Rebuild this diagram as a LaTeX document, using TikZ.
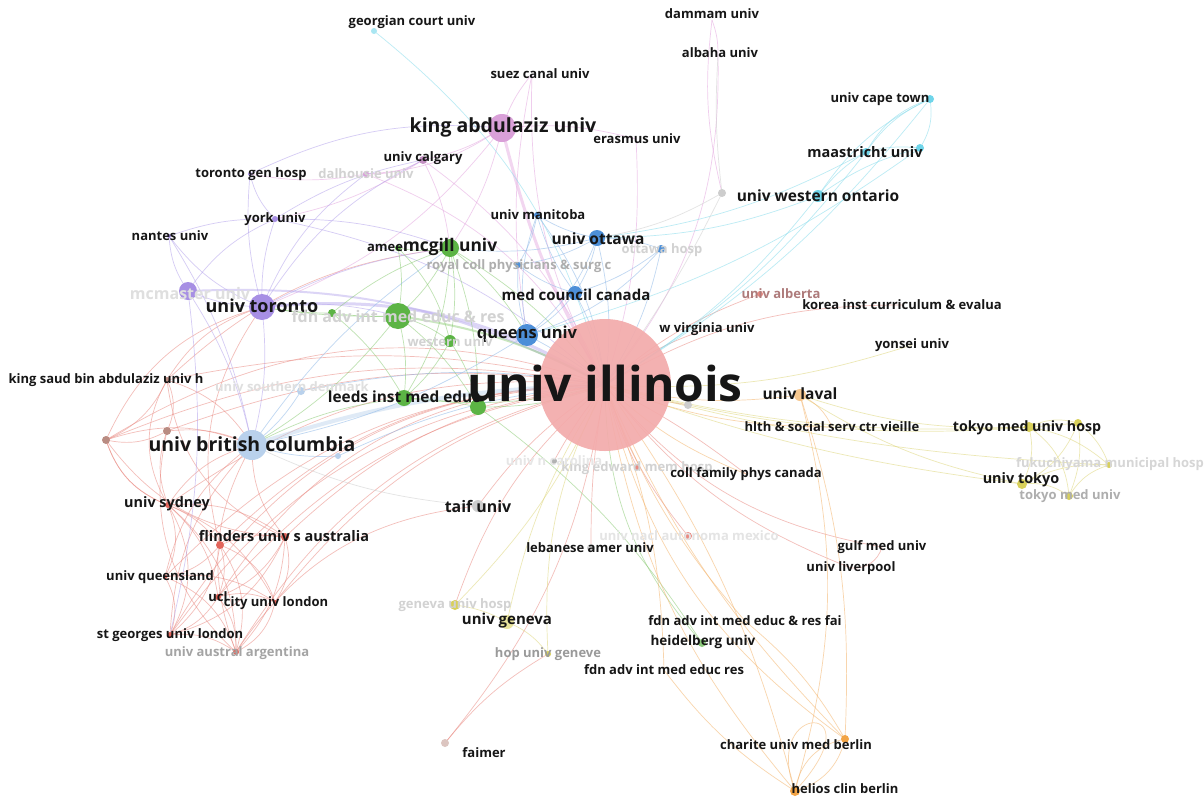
\documentclass[tikz,border=0pt]{standalone}
\usepackage{fontspec}
\setmainfont{Open Sans}
\pgfdeclarelayer{bg}
\pgfsetlayers{bg,main}
\definecolor{illC}{HTML}{F3ABAB}
\definecolor{redN}{HTML}{E2655B}
\definecolor{redE}{HTML}{EA8A82}
\definecolor{pinkN}{HTML}{D9A0D8}
\definecolor{pinkE}{HTML}{E3A5DF}
\definecolor{purN}{HTML}{A78FE4}
\definecolor{purE}{HTML}{B3A2EC}
\definecolor{grnN}{HTML}{5CB445}
\definecolor{grnE}{HTML}{8ACB73}
\definecolor{bluN}{HTML}{4C8FD8}
\definecolor{bluE}{HTML}{8DB8E8}
\definecolor{lbN}{HTML}{B9D1EC}
\definecolor{cyN}{HTML}{6FD5EA}
\definecolor{cyE}{HTML}{86DCEC}
\definecolor{yelN}{HTML}{D8D05A}
\definecolor{yelE}{HTML}{DED67A}
\definecolor{orN}{HTML}{F2A446}
\definecolor{orE}{HTML}{F4B36A}
\definecolor{brN}{HTML}{B98C82}
\definecolor{gryN}{HTML}{CDCDCD}
\definecolor{ink}{HTML}{161616}
\definecolor{fadeC}{HTML}{D2D2D2}
\definecolor{midC}{HTML}{9A9A9A}
\tikzset{
  dot/.style={circle, inner sep=0pt, minimum size=#1, draw=none},
  lbl/.style={font=\bfseries\fontsize{#1}{#1}\selectfont, text=ink, inner sep=0pt},
  lbl/.default=13,
  e/.style={draw=#1, line width=0.7pt, draw opacity=0.55},
  ethick/.style={draw=#1, line width=3pt, draw opacity=0.45},
}
\begin{document}
\begin{tikzpicture}[x=1pt,y=-1pt]
\useasboundingbox (0,0) rectangle (1204,798);
% ---------- node circles ----------
\node[dot=132, fill=illC, fill opacity=0.92] (ill) at (605,385) {};
\node[dot=28, fill=pinkN] (kau) at (502,128) {};
\node[dot=30, fill=lbN] (ubc) at (252,445) {};
\node[dot=26, fill=purN] (tor) at (262,307) {};
\node[dot=18, fill=purN] (mcm) at (188,291) {};
\node[dot=18, fill=grnN] (mcg) at (450,248) {};
\node[dot=26, fill=grnN] (gbig) at (398,316) {};
\node[dot=8, fill=grnN] (gsm) at (332,313) {};
\node[dot=12, fill=grnN] (west) at (450,341) {};
\node[dot=16, fill=grnN] (leeds) at (404,398) {};
\node[dot=16, fill=grnN] (g2) at (478,407) {};
\node[dot=6, fill=grnN] (amee) at (398,248) {};
\node[dot=22, fill=bluN] (queens) at (527,335) {};
\node[dot=14, fill=bluN] (medc) at (575,293) {};
\node[dot=16, fill=bluN] (ott) at (597,238) {};
\node[dot=8, fill=bluN] (ohosp) at (661,249) {};
\node[dot=6, fill=bluN] (royal) at (518,265) {};
\node[dot=6, fill=bluN] (manit) at (537,215) {};
\node[dot=12, fill=cyN] (uwo) at (818,196) {};
\node[dot=8, fill=cyN] (maast) at (866,152) {};
\node[dot=8, fill=cyN] (cape) at (930,99) {};
\node[dot=8, fill=cyN] (cy2) at (920,148) {};
\node[dot=6, fill=cyN!60] (georg) at (374,31) {};
\node[dot=8, fill=gryN] (gray1) at (722,193) {};
\node[dot=8, fill=pinkN!90!black] (calg) at (423,160) {};
\node[dot=6, fill=pinkN] (dalh) at (366,174) {};
\node[dot=4, fill=purN] (torgen) at (250,174) {};
\node[dot=6, fill=purN] (york) at (275,219) {};
\node[dot=4, fill=purN] (nantes) at (169,236) {};
\node[dot=6, fill=brN] (ks1) at (167,380) {};
\node[dot=8, fill=brN] (ks2) at (167,431) {};
\node[dot=8, fill=brN] (ks3) at (106,440) {};
\node[dot=8, fill=lbN] (usd) at (301,391) {};
\node[dot=6, fill=lbN] (bl2) at (338,456) {};
\node[dot=6, fill=redN] (syd) at (168,505) {};
\node[dot=8, fill=redN] (fl1) at (220,545) {};
\node[dot=8, fill=redN] (fl2) at (285,537) {};
\node[dot=4, fill=redN] (uq) at (165,577) {};
\node[dot=6, fill=redN] (ucl) at (218,597) {};
\node[dot=4, fill=redN] (city) at (275,602) {};
\node[dot=6, fill=redN] (stg) at (170,635) {};
\node[dot=6, fill=redN] (austral) at (236,652) {};
\node[dot=12, fill=gryN] (taif) at (478,506) {};
\node[dot=10, fill=yelN] (gvh) at (455,605) {};
\node[dot=14, fill=yelN!60] (gva) at (507,622) {};
\node[dot=6, fill=yelN] (hop) at (548,654) {};
\node[dot=8, fill=gryN] (lau) at (591,548) {};
\node[dot=8, fill=redE] (nacl) at (688,536) {};
\node[dot=6, fill=redE] (kem) at (637,467) {};
\node[dot=6, fill=gray!60] (gr3) at (554,461) {};
\node[dot=8, fill=grnN!70] (heid) at (702,643) {};
\node[dot=8, fill=brN!50] (faimer) at (445,743) {};
\node[dot=8, fill=orN] (charite) at (845,739) {};
\node[dot=10, fill=orN] (helios) at (795,791) {};
\node[dot=12, fill=orN!60] (laval) at (800,395) {};
\node[dot=8, fill=gryN] (gr4) at (688,405) {};
\node[dot=6, fill=redE] (alb) at (760,294) {};
\node[dot=10, fill=yelN] (tmh1) at (1029,427) {};
\node[dot=8, fill=yelN] (tmh2) at (1078,423) {};
\node[dot=6, fill=yelN] (fuku) at (1109,465) {};
\node[dot=10, fill=yelN] (utok) at (1022,484) {};
\node[dot=8, fill=yelN] (tmu) at (1069,496) {};
% hidden nodes (label only)
\coordinate (suez) at (532,74);
\coordinate (erasmus) at (636,139);
\coordinate (dammam) at (712,20);
\coordinate (albaha) at (718,55);
\coordinate (wvir) at (707,329);
\coordinate (korea) at (902,305);
\coordinate (yonsei) at (912,345);
\coordinate (hlth) at (832,427);
\coordinate (coll) at (746,474);
\coordinate (gulf) at (882,547);
\coordinate (liver) at (851,568);
\coordinate (fdnfai) at (745,621);
\coordinate (fdnres) at (664,670);
% ---------- edges ----------
\begin{pgfonlayer}{bg}
\fill[white] (0,0) rectangle (1204,798);
% red cluster
\foreach \a/\b/\c in {syd/fl1/15,syd/fl2/20,syd/uq/25,syd/stg/30,syd/ucl/20,syd/city/20,syd/austral/25,syd/ks2/20,syd/ks3/25,syd/ks1/30,
  fl1/fl2/15,fl1/uq/20,fl1/ucl/20,fl1/city/25,fl1/stg/20,fl1/austral/25,fl2/ucl/20,fl2/city/25,fl2/austral/20,fl2/stg/25,
  uq/stg/25,uq/city/20,uq/austral/25,ucl/city/20,ucl/stg/20,ucl/austral/20,stg/austral/20,city/austral/25,
  ks1/ks2/25,ks1/ks3/20,ks2/ks3/20,ks1/ubc/20,ks3/ubc/20,ks2/ubc/15,ks3/tor/25,ks1/tor/20,fl2/ubc/20,syd/ubc/20,
  stg/ubc/20,austral/ubc/25,fl1/tor/25,ks3/syd/-25,ks1/fl2/-30,ks2/austral/-30,ks3/fl2/-25,uq/ubc/20}
  \draw[e=redE] (\a.center) to[bend left=\c] (\b.center);
\foreach \a/\c in {syd/20,fl1/22,fl2/18,uq/22,ucl/20,city/18,stg/24,austral/22,ks1/12,ks2/14,ks3/16,
  taif/10,faimer/-15,gulf/20,liver/15,nacl/10,kem/5,wvir/-10,alb/-10,korea/-15,gvh/15,coll/-5,lau/5,gr3/5,gr4/5}
  \draw[e=redE] (ill.center) to[bend right=\c] (\a.center);
\draw[e=redE] (ks3.center) to[bend left=25] (ill.center);
\draw[e=redE] (ks1.center) to[bend left=18] (mcg.center);
\draw[e=redE] (stg.center) to[bend left=30] (ill.center);
\draw[e=redE] (austral.center) to[bend left=25] (taif.center);
\draw[e=redE] (ucl.center) to[bend left=28] (ill.center);
\draw[e=redE] (gulf) to[bend left=40] (liver);
\draw[e=redE] (faimer.center) to[bend left=10] (hop.center);
% pink cluster
\draw[ethick=pinkE] (kau.center) to[bend right=8] (ill.center);
\foreach \a/\b/\c in {kau/suez/10,kau/calg/10,kau/dalh/15,kau/erasmus/10,kau/mcg/10,calg/dalh/15,calg/ill/15,dalh/ill/20,
  suez/ill/-15,albaha/ill/20,dammam/gray1/-10,dammam/albaha/10,kau/tor/15,calg/york/10,dalh/torgen/10,calg/mcg/10,suez/queens/-10,erasmus/ill/10}
  \draw[e=pinkE] (\a.center) to[bend left=\c] (\b.center);
% purple cluster
\draw[ethick=purE] (tor.center) to[bend left=18] (ill.center);
\draw[ethick=purE, line width=2pt] (mcm.center) to[bend left=15] (ill.center);
\foreach \a/\b/\c in {tor/mcm/10,tor/york/10,tor/nantes/15,tor/torgen/10,tor/ubc/10,tor/dalh/15,tor/calg/15,tor/mcg/10,tor/gbig/10,
  mcm/nantes/15,mcm/york/15,mcm/ubc/10,york/torgen/15,york/calg/10,york/ill/15,nantes/york/10,torgen/kau/15,mcm/stg/10,nantes/ubc/10,york/mcg/10}
  \draw[e=purE] (\a.center) to[bend left=\c] (\b.center);
% green cluster
\draw[ethick=grnE, line width=2pt] (gbig.center) to[bend left=10] (ill.center);
\foreach \a/\b/\c in {mcg/gbig/10,mcg/west/10,mcg/leeds/15,mcg/g2/10,mcg/amee/10,mcg/queens/10,mcg/ill/10,gbig/gsm/5,gbig/west/10,
  gbig/leeds/10,gbig/g2/10,gbig/tor/5,gsm/tor/5,gsm/leeds/10,west/leeds/10,west/g2/10,leeds/g2/5,leeds/ill/-10,g2/ill/-10,
  amee/gbig/10,heid/ill/20,gbig/ubc/10,amee/west/15,gsm/mcg/10,leeds/ubc/-10,heid/g2/-10}
  \draw[e=grnE] (\a.center) to[bend left=\c] (\b.center);
% blue clusters
\draw[ethick=lbN, line width=4pt] (ubc.center) to[bend left=8] (ill.center);
\foreach \a/\b/\c in {ott/medc/10,ott/queens/15,ott/manit/10,ott/royal/10,ott/ohosp/10,ott/ill/10,medc/queens/10,medc/manit/10,
  medc/royal/10,medc/ill/10,queens/manit/15,queens/royal/10,queens/ill/5,ohosp/queens/15,ohosp/medc/10,ohosp/ill/10,manit/royal/10,
  queens/ubc/10,usd/ill/10,usd/ubc/10,bl2/ubc/10,bl2/ill/10,ubc/mcg/10,ott/mcg/10,manit/ill/15}
  \draw[e=bluE] (\a.center) to[bend left=\c] (\b.center);
% cyan cluster
\foreach \a/\b/\c in {uwo/maast/10,uwo/cape/15,uwo/cy2/10,maast/cape/15,maast/cy2/10,cape/cy2/20,uwo/ill/10,maast/ill/10,
  maast/ott/10,uwo/ott/10,cape/ill/10,cape/maast/-20,cy2/queens/10}
  \draw[e=cyE] (\a.center) to[bend left=\c] (\b.center);
\draw[e=cyE] (georg.center) to[bend left=18] (ill.center);
% gray
\foreach \a/\b/\c in {gray1/ill/5,gray1/ott/10,taif/ubc/10,gray1/albaha/5}
  \draw[e=gryN] (\a.center) to[bend left=\c] (\b.center);
% yellow cluster
\foreach \a/\b/\c in {tmh1/tmh2/20,tmh1/utok/20,tmh1/fuku/15,tmh1/tmu/25,tmh2/fuku/15,tmh2/utok/20,tmh2/tmu/15,utok/tmu/20,
  utok/fuku/15,tmu/fuku/20,tmh1/ill/8,utok/ill/6,tmh1/laval/10,utok/laval/10,gvh/gva/10,gva/hop/15,gva/ill/10,gvh/ill/-10,hop/ill/15,
  yonsei/ill/10,tmh2/ill/10,fuku/ill/6}
  \draw[e=yelE] (\a.center) to[bend left=\c] (\b.center);
% orange cluster
\foreach \a/\b/\c in {charite/helios/30,helios/charite/35,charite/ill/10,helios/ill/15,laval/ill/10,laval/hlth/20,laval/charite/10,
  hlth/ill/10,coll/ill/10,helios/fdnres/10,charite/fdnfai/-10,fdnfai/ill/10,fdnres/ill/-10,helios/ill/-10,charite/ill/20,laval/helios/15}
  \draw[e=orE] (\a.center) to[bend left=\c] (\b.center);
\draw[e=orE] (helios.center) .. controls (760,700) and (880,700) .. (helios.center);
\end{pgfonlayer}
% ---------- labels ----------
\node[lbl=48] (Lill) at (605,383) {univ illinois};
\node[lbl=19.5] (Lkau) at (503,127) {king abdulaziz univ};
\node[lbl=19.5] (Lubc) at (252,444) {univ british columbia};
\node[lbl=18] (Ltor) at (262,306) {univ toronto};
\node[lbl=17.4] (Lmcg) at (450,247) {mcgill univ};
\node[lbl=13] (Lamee) at (385,248) {amee};
\node[lbl=16.5] (Lqueens) at (527,334) {queens univ};
\node[lbl=15] (Lmedc) at (576,295) {med council canada};
\node[lbl=15.5] (Lott) at (598,239) {univ ottawa};
\node[lbl=13, text=fadeC] (Lohosp) at (662,250) {ottawa hosp};
\node[lbl=13, text=midC!80] (Lroyal) at (519,266) {royal coll physicians \& surg c};
\node[lbl=13] (Lmanit) at (538,215) {univ manitoba};
\node[lbl=15.5] (Luwo) at (818,196) {univ western ontario};
\node[lbl=14.5] (Lmaast) at (865,152) {maastricht univ};
\node[lbl=13] (Lcape) at (880,99) {univ cape town};
\node[lbl=13] (Lerasmus) at (637,139) {erasmus univ};
\node[lbl=13] (Lsuez) at (540,74) {suez canal univ};
\node[lbl=13] (Lgeorg) at (412,22) {georgian court univ};
\node[lbl=13] (Ldammam) at (712,14) {dammam univ};
\node[lbl=13] (Lalbaha) at (720,53) {albaha univ};
\node[lbl=13] (Lcalg) at (423,158) {univ calgary};
\node[lbl=13, text=fadeC] (Ldalh) at (366,174) {dalhousie univ};
\node[lbl=13] (Ltorgen) at (251,174) {toronto gen hosp};
\node[lbl=13] (Lyork) at (275,219) {york univ};
\node[lbl=13] (Lnantes) at (170,236) {nantes univ};
\node[lbl=16, text=fadeC!70] (Lmcm) at (190,293) {mcmaster univ};
\node[lbl=16, text=fadeC] (Lgbig) at (398,316) {fdn adv int med educ \& res};
\node[lbl=13, text=fadeC] (Lwest) at (450,342) {western univ};
\node[lbl=15.4] (Lleeds) at (404,397) {leeds inst med educ};
\node[lbl=13] (Lks) at (106,380) {king saud bin abdulaziz univ h};
\node[lbl=13, text=fadeC!70] (Lusd) at (292,387) {univ southern denmark};
\node[lbl=14.4] (Lsyd) at (167,504) {univ sydney};
\node[lbl=14.5] (Lfl) at (284,536) {flinders univ s australia};
\node[lbl=13] (Luq) at (160,577) {univ queensland};
\node[lbl=13] (Lucl) at (218,597) {ucl};
\node[lbl=13] (Lcity) at (276,603) {city univ london};
\node[lbl=13] (Lstg) at (170,635) {st georges univ london};
\node[lbl=13, text=midC!90] (Laustral) at (237,653) {univ austral argentina};
\node[lbl=15.9] (Ltaif) at (478,506) {taif univ};
\node[lbl=13] (Llau) at (590,548) {lebanese amer univ};
\node[lbl=13, text=fadeC!60] (Lnacl) at (689,536) {univ nacl autonoma mexico};
\node[lbl=13, text=fadeC] (Lkem) at (637,468) {king edward mem hosp};
\node[lbl=13, text=fadeC!55] (Lgr3) at (554,461) {univ n carolina};
\node[lbl=13] (Lcoll) at (746,474) {coll family phys canada};
\node[lbl=13, text=fadeC] (Lgvh) at (455,605) {geneva univ hosp};
\node[lbl=15] (Lgva) at (507,621) {univ geneva};
\node[lbl=13, text=midC] (Lhop) at (548,654) {hop univ geneve};
\node[lbl=13] (Lfdnfai) at (745,621) {fdn adv int med educ \& res fai};
\node[lbl=13.5] (Lheid) at (703,642) {heidelberg univ};
\node[lbl=13] (Lfdnres) at (664,670) {fdn adv int med educ res};
\node[lbl=13] (Lfaimer) at (484,753) {faimer};
\node[lbl=13] (Lcharite) at (796,745) {charite univ med berlin};
\node[lbl=13] (Lhelios) at (845,789) {helios clin berlin};
\node[lbl=13] (Lgulf) at (882,547) {gulf med univ};
\node[lbl=13] (Lliver) at (851,568) {univ liverpool};
\node[lbl=15.5] (Llaval) at (800,394) {univ laval};
\node[lbl=13] (Lhlth) at (832,427) {hlth \& social serv ctr vieille};
\node[lbl=13] (Lwvir) at (707,329) {w virginia univ};
\node[lbl=13, text=midC!80!red] (Lalb) at (781,294) {univ alberta};
\node[lbl=13] (Lkorea) at (902,305) {korea inst curriculum \& evalua};
\node[lbl=13] (Lyonsei) at (912,345) {yonsei univ};
\node[lbl=14.2] (Ltmh) at (1027,428) {tokyo med univ hosp};
\node[lbl=13, text=fadeC!90] (Lfuku) at (1110,464) {fukuchiyama municipal hosp};
\node[lbl=14.4] (Lutok) at (1021,480) {univ tokyo};
\node[lbl=13, text=midC!80] (Ltmu) at (1070,496) {tokyo med univ};
\end{tikzpicture}
\end{document}
